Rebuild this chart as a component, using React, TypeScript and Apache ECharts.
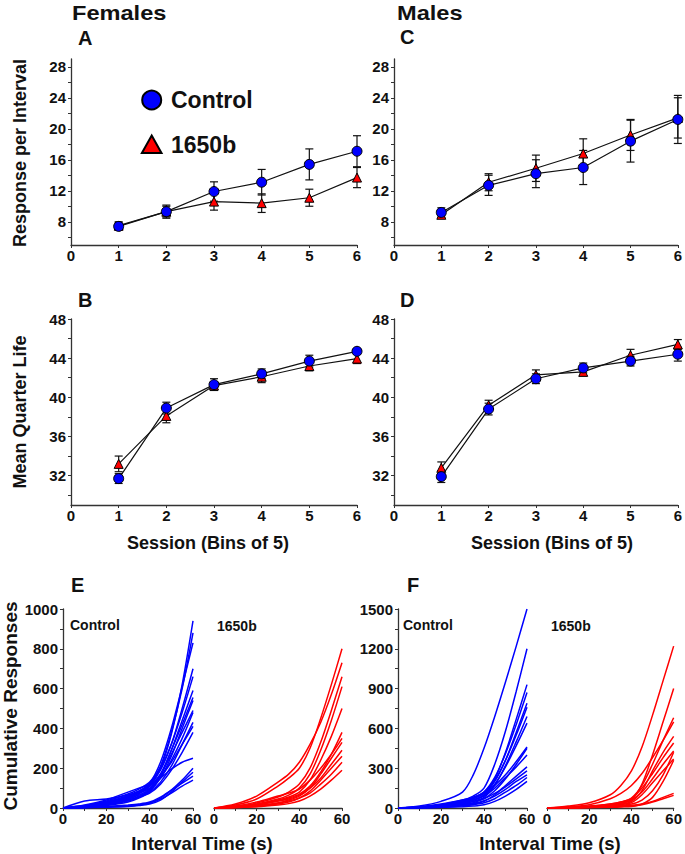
import React, { useEffect, useRef } from "react";
import * as echarts from "echarts";

const FONT = '"Liberation Sans", Arial, Helvetica, sans-serif';

// ---------- Top panels data (session bins 1..6) ----------
const sessions = [1, 2, 3, 4, 5, 6];
const sessionTicks = [0, 1, 2, 3, 4, 5, 6];

const femRespCtrl = [7.4, 9.3, 11.9, 13.1, 15.4, 17.1];
const femRespCtrlErr = [0.5, 0.85, 1.25, 1.65, 2.0, 2.0];
const femRespMut = [7.5, 9.3, 10.6, 10.4, 11.1, 13.7];
const femRespMutErr = [0.5, 0.7, 1.1, 1.2, 1.1, 1.3];

const malRespCtrl = [9.2, 12.7, 14.2, 15.0, 18.4, 21.2];
const malRespCtrlErr = [0.6, 1.3, 1.8, 2.2, 2.7, 3.1];
const malRespMut = [8.9, 13.1, 14.9, 16.8, 19.2, 21.4];
const malRespMutErr = [0.4, 1.1, 1.7, 1.9, 2.0, 2.6];

const femMqlCtrl = [31.7, 38.9, 41.3, 42.4, 43.7, 44.7];
const femMqlCtrlErr = [0.5, 0.6, 0.6, 0.5, 0.6, 0.3];
const femMqlMut = [33.2, 38.1, 41.2, 42.1, 43.2, 43.95];
const femMqlMutErr = [0.8, 0.7, 0.4, 0.6, 0.5, 0.5];

const malMqlCtrl = [31.9, 38.8, 41.9, 43.0, 43.7, 44.4];
const malMqlCtrlErr = [0.6, 0.6, 0.5, 0.5, 0.5, 0.7];
const malMqlMut = [32.8, 39.2, 42.3, 42.6, 44.3, 45.4];
const malMqlMutErr = [0.6, 0.5, 0.5, 0.4, 0.6, 0.5];

const respLabels = [8, 12, 16, 20, 24, 28];
const respTicks = [6, 8, 10, 12, 14, 16, 18, 20, 22, 24, 26, 28];
const mqlLabels = [32, 36, 40, 44, 48];
const mqlTicks = [30, 32, 34, 36, 38, 40, 42, 44, 46, 48];

// ---------- Bottom panels: cumulative responses over interval time ----------
const intervalTimes = [0, 10, 20, 30, 35, 40, 45, 50, 55, 60];
const timeLabels = [0, 20, 40, 60];
const timeTicks = [0, 10, 20, 30, 40, 50, 60];

const femCtrlCurves = [
  [0, 5, 20, 45, 70, 110, 200, 370, 620, 940],
  [0, 8, 25, 55, 80, 120, 210, 380, 600, 880],
  [0, 10, 30, 60, 85, 125, 230, 400, 610, 830],
  [0, 6, 22, 50, 75, 115, 190, 320, 500, 700],
  [0, 12, 35, 70, 95, 130, 200, 320, 480, 660],
  [0, 5, 18, 40, 60, 90, 160, 290, 440, 590],
  [0, 8, 25, 55, 75, 100, 170, 290, 420, 555],
  [0, 4, 15, 35, 55, 85, 150, 260, 400, 540],
  [0, 10, 30, 60, 80, 110, 170, 270, 380, 490],
  [0, 6, 20, 45, 65, 95, 150, 240, 350, 480],
  [0, 3, 12, 30, 50, 80, 130, 210, 320, 430],
  [0, 15, 40, 80, 100, 120, 160, 230, 320, 410],
  [0, 5, 18, 40, 55, 75, 120, 190, 280, 380],
  [0, 35, 45, 65, 85, 110, 150, 195, 230, 250],
  [0, 2, 5, 10, 15, 25, 50, 90, 140, 200],
  [0, 1, 4, 8, 12, 20, 40, 80, 130, 180],
  [0, 3, 8, 15, 20, 30, 55, 90, 125, 160],
  [0, 2, 6, 10, 15, 25, 45, 75, 110, 140],
];
const femMutCurves = [
  [0, 15, 45, 110, 150, 200, 300, 450, 620, 800],
  [0, 20, 60, 130, 170, 230, 320, 430, 570, 730],
  [0, 8, 25, 55, 80, 120, 200, 330, 490, 660],
  [0, 5, 20, 45, 65, 100, 170, 290, 440, 610],
  [0, 6, 18, 40, 55, 80, 140, 240, 360, 500],
  [0, 4, 15, 35, 50, 70, 110, 180, 270, 380],
  [0, 10, 30, 60, 75, 95, 140, 200, 270, 350],
  [0, 3, 10, 25, 40, 60, 100, 170, 250, 330],
  [0, 5, 15, 35, 45, 65, 100, 150, 220, 290],
  [0, 2, 8, 20, 30, 50, 85, 140, 200, 260],
  [0, 3, 10, 25, 35, 50, 75, 120, 170, 230],
  [0, 2, 6, 15, 22, 35, 60, 95, 140, 190],
];
const malCtrlCurves = [
  [0, 15, 50, 120, 250, 450, 690, 950, 1220, 1500],
  [0, 8, 25, 60, 90, 150, 330, 580, 880, 1200],
  [0, 5, 20, 45, 70, 110, 220, 420, 670, 930],
  [0, 6, 22, 50, 75, 120, 230, 410, 630, 870],
  [0, 4, 15, 40, 60, 100, 200, 360, 570, 790],
  [0, 8, 25, 55, 80, 120, 210, 360, 550, 760],
  [0, 3, 12, 30, 50, 80, 170, 320, 500, 690],
  [0, 5, 18, 40, 60, 95, 180, 310, 470, 640],
  [0, 10, 30, 60, 80, 110, 170, 250, 350, 460],
  [0, 3, 10, 25, 40, 70, 130, 220, 330, 450],
  [0, 6, 20, 45, 60, 90, 150, 230, 310, 400],
  [0, 2, 8, 20, 30, 50, 100, 170, 240, 310],
  [0, 4, 15, 35, 50, 70, 110, 160, 220, 280],
  [0, 3, 10, 25, 35, 55, 90, 140, 200, 250],
  [0, 2, 6, 15, 25, 40, 70, 120, 170, 230],
  [0, 1, 4, 10, 15, 25, 50, 90, 140, 200],
];
const malMutCurves = [
  [0, 15, 40, 100, 170, 280, 460, 700, 960, 1220],
  [0, 8, 25, 70, 110, 170, 260, 380, 510, 650],
  [0, 3, 10, 25, 35, 60, 180, 400, 650, 900],
  [0, 4, 12, 30, 45, 75, 170, 330, 510, 680],
  [0, 2, 8, 20, 30, 50, 130, 280, 420, 540],
  [0, 5, 15, 30, 45, 70, 150, 260, 380, 490],
  [0, 3, 10, 25, 40, 60, 120, 220, 330, 430],
  [0, 2, 6, 15, 25, 40, 100, 190, 280, 370],
  [0, 2, 6, 15, 20, 30, 60, 130, 250, 420],
  [0, 1, 3, 5, 8, 12, 30, 80, 200, 360],
  [0, 1, 4, 10, 15, 20, 30, 50, 80, 110],
  [0, 1, 3, 8, 12, 15, 25, 45, 70, 95],
];
const femCumLabels = [0, 200, 400, 600, 800, 1000];
const femCumTicks = [0, 100, 200, 300, 400, 500, 600, 700, 800, 900, 1000];
const malCumLabels = [0, 300, 600, 900, 1200, 1500];
const malCumTicks = [0, 150, 300, 450, 600, 750, 900, 1050, 1200, 1350, 1500];

const BLUE = "#0000ff";
const RED = "#ff0000";
const AXIS = "#333";
const TXT = "#111";

const plain = (v: number) => String(v);

function xAxisDef(gridIndex: number, max: number, labels: number[], ticks: number[], showLabel = true) {
  return {
    type: "value",
    gridIndex,
    min: 0,
    max,
    axisLine: { show: true, onZero: false, lineStyle: { color: AXIS, width: 1.3 } },
    axisTick: { show: true, length: 3, customValues: ticks, lineStyle: { color: AXIS, width: 1 } },
    axisLabel: {
      show: showLabel,
      customValues: labels,
      formatter: plain,
      margin: 3,
      fontSize: 15,
      fontWeight: "bold",
      color: TXT,
      fontFamily: FONT,
    },
    splitLine: { show: false },
  };
}

function yAxisDef(gridIndex: number, min: number, max: number, labels: number[], ticks: number[], show = true) {
  return {
    type: "value",
    gridIndex,
    min,
    max,
    axisLine: { show, onZero: false, lineStyle: { color: AXIS, width: 1.3 } },
    axisTick: { show, length: 3, customValues: ticks, lineStyle: { color: AXIS, width: 1 } },
    axisLabel: {
      show,
      customValues: labels,
      formatter: plain,
      margin: 5,
      fontSize: 15,
      fontWeight: "bold",
      color: TXT,
      fontFamily: FONT,
    },
    splitLine: { show: false },
  };
}

function errorSeries(g: number, vals: number[], errs: number[]) {
  return {
    type: "custom",
    xAxisIndex: g,
    yAxisIndex: g,
    z: 1,
    silent: true,
    data: sessions.map((s, i) => [s, vals[i], vals[i] - errs[i], vals[i] + errs[i]]),
    encode: { x: 0, y: 1 },
    renderItem: (params: any, api: any) => {
      const x = api.value(0);
      const lo = api.coord([x, api.value(2)]);
      const hi = api.coord([x, api.value(3)]);
      const hw = 4;
      const st = { stroke: "#111", lineWidth: 1.2 };
      return {
        type: "group",
        children: [
          { type: "line", shape: { x1: hi[0], y1: hi[1], x2: lo[0], y2: lo[1] }, style: st },
          { type: "line", shape: { x1: hi[0] - hw, y1: hi[1], x2: hi[0] + hw, y2: hi[1] }, style: st },
          { type: "line", shape: { x1: lo[0] - hw, y1: lo[1], x2: lo[0] + hw, y2: lo[1] }, style: st },
        ],
      };
    },
  };
}

function lineSeries(g: number, vals: number[], ctrl: boolean) {
  return {
    type: "line",
    name: ctrl ? "Control" : "1650b",
    xAxisIndex: g,
    yAxisIndex: g,
    z: ctrl ? 4 : 3,
    symbol: ctrl ? "circle" : "triangle",
    symbolSize: ctrl ? 10 : 9,
    showSymbol: true,
    silent: true,
    itemStyle: { color: ctrl ? BLUE : RED, borderColor: "#000", borderWidth: 1 },
    lineStyle: { color: "#111", width: 1.2 },
    data: sessions.map((s, i) => [s, vals[i]]),
  };
}

function curveSeries(g: number, curves: number[][], color: string) {
  return curves.map((c) => ({
    type: "line",
    xAxisIndex: g,
    yAxisIndex: g,
    showSymbol: false,
    symbol: "none",
    silent: true,
    smooth: 0.3,
    lineStyle: { color, width: 1.5 },
    data: intervalTimes.map((t, i) => [t, c[i]]),
  }));
}

function txt(text: string, x: number, y: number, size: number, opts: any = {}) {
  const align = opts.align || "left";
  return {
    type: "text",
    x,
    y,
    rotation: opts.rotation || 0,
    scaleX: opts.scaleX || 1,
    style: {
      text,
      fontSize: size,
      fontWeight: "bold",
      fontFamily: FONT,
      fill: TXT,
      align,
      textAlign: align,
      verticalAlign: "middle",
      textVerticalAlign: "middle",
    },
  };
}

export default function App() {
  const ref = useRef<HTMLDivElement>(null);
  useEffect(() => {
    if (!ref.current) return;
    const chart = echarts.init(ref.current, null, { renderer: "svg" });
    const grids = [
      { left: 71, top: 59, width: 286, height: 186 }, // A
      { left: 71, top: 319, width: 286, height: 186 }, // B
      { left: 394, top: 59, width: 286, height: 186 }, // C
      { left: 394, top: 319, width: 286, height: 186 }, // D
      { left: 63, top: 609, width: 130, height: 199 }, // E control
      { left: 214, top: 609, width: 128, height: 199 }, // E 1650b
      { left: 398, top: 609, width: 129, height: 199 }, // F control
      { left: 547, top: 609, width: 127, height: 199 }, // F 1650b
    ];
    const option: any = {
      animation: false,
      grid: grids.map((g) => ({ ...g, containLabel: false })),
      xAxis: [
        xAxisDef(0, 6, sessionTicks, sessionTicks),
        xAxisDef(1, 6, sessionTicks, sessionTicks),
        xAxisDef(2, 6, sessionTicks, sessionTicks),
        xAxisDef(3, 6, sessionTicks, sessionTicks),
        xAxisDef(4, 60, timeLabels, timeTicks),
        xAxisDef(5, 60, timeLabels, timeTicks),
        xAxisDef(6, 60, timeLabels, timeTicks),
        xAxisDef(7, 60, timeLabels, timeTicks),
      ],
      yAxis: [
        yAxisDef(0, 5, 29, respLabels, respTicks),
        yAxisDef(1, 29, 48, mqlLabels, mqlTicks),
        yAxisDef(2, 5, 29, respLabels, respTicks),
        yAxisDef(3, 29, 48, mqlLabels, mqlTicks),
        yAxisDef(4, 0, 1000, femCumLabels, femCumTicks),
        yAxisDef(5, 0, 1000, femCumLabels, femCumTicks, false),
        yAxisDef(6, 0, 1500, malCumLabels, malCumTicks),
        yAxisDef(7, 0, 1500, malCumLabels, malCumTicks, false),
      ],
      series: [
        errorSeries(0, femRespMut, femRespMutErr),
        errorSeries(0, femRespCtrl, femRespCtrlErr),
        lineSeries(0, femRespMut, false),
        lineSeries(0, femRespCtrl, true),
        errorSeries(1, femMqlMut, femMqlMutErr),
        errorSeries(1, femMqlCtrl, femMqlCtrlErr),
        lineSeries(1, femMqlMut, false),
        lineSeries(1, femMqlCtrl, true),
        errorSeries(2, malRespMut, malRespMutErr),
        errorSeries(2, malRespCtrl, malRespCtrlErr),
        lineSeries(2, malRespMut, false),
        lineSeries(2, malRespCtrl, true),
        errorSeries(3, malMqlMut, malMqlMutErr),
        errorSeries(3, malMqlCtrl, malMqlCtrlErr),
        lineSeries(3, malMqlMut, false),
        lineSeries(3, malMqlCtrl, true),
        ...curveSeries(4, femCtrlCurves, BLUE),
        ...curveSeries(5, femMutCurves, RED),
        ...curveSeries(6, malCtrlCurves, BLUE),
        ...curveSeries(7, malMutCurves, RED),
      ],
      graphic: [
        txt("Females", 72, 13, 20, { scaleX: 1.18 }),
        txt("Males", 397, 13, 20, { scaleX: 1.18 }),
        txt("A", 78, 38, 20),
        txt("C", 400, 37, 20),
        txt("B", 78, 300, 20),
        txt("D", 400, 300, 20),
        txt("E", 71, 585, 20),
        txt("F", 407, 585, 20),
        txt("Response per Interval", 20, 153, 18, { align: "center", rotation: Math.PI / 2 }),
        txt("Mean Quarter Life", 20, 412, 18, { align: "center", rotation: Math.PI / 2 }),
        txt("Cumulative Responses", 10, 706, 19, { align: "center", rotation: Math.PI / 2 }),
        txt("Session (Bins of 5)", 208, 543, 18, { align: "center" }),
        txt("Session (Bins of 5)", 552, 543, 18, { align: "center" }),
        txt("Interval Time (s)", 202, 843, 18.5, { align: "center" }),
        txt("Interval Time (s)", 550, 843, 18.5, { align: "center" }),
        txt("Control", 70, 625, 14),
        txt("1650b", 217, 626, 14),
        txt("Control", 403, 625, 14),
        txt("1650b", 551, 626, 14),
        {
          type: "circle",
          shape: { cx: 151.7, cy: 100, r: 9.5 },
          style: { fill: BLUE, stroke: "#000", lineWidth: 2 },
        },
        {
          type: "polygon",
          shape: { points: [[151.7, 135.5], [161.5, 153], [141.9, 153]] },
          style: { fill: RED, stroke: "#000", lineWidth: 2 },
        },
        txt("Control", 171, 100, 23),
        txt("1650b", 171, 145, 23),
      ],
    };
    chart.setOption(option);
    return () => chart.dispose();
  }, []);
  return (
    <div
      ref={ref}
      style={{ position: "absolute", left: 0, top: 0, width: 685, height: 854, background: "#fff" }}
    />
  );
}
